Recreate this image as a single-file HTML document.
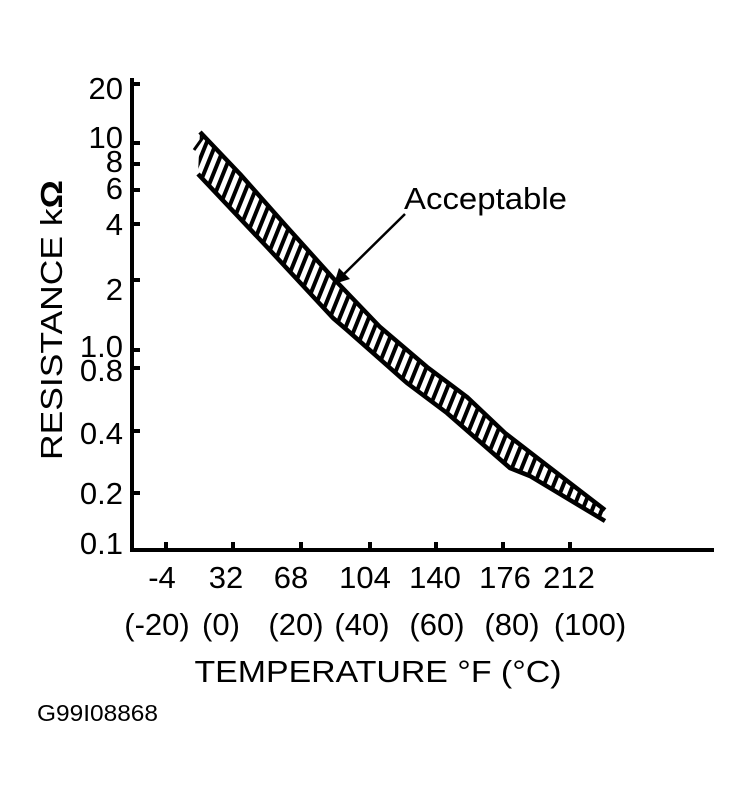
<!DOCTYPE html>
<html><head><meta charset="utf-8"><style>
html,body{margin:0;padding:0;background:#fff;}
svg{display:block;}
text{font-family:"Liberation Sans",Arial,sans-serif;fill:#000;}
</style></head><body>
<svg width="752" height="795" viewBox="0 0 752 795" xmlns="http://www.w3.org/2000/svg">
<defs>
<pattern id="h" patternUnits="userSpaceOnUse" width="9" height="40" patternTransform="rotate(22)">
<rect x="0" y="0" width="4" height="40" fill="#000"/>
</pattern>
</defs>
<!-- axes -->
<line x1="132" y1="78" x2="132" y2="552" stroke="#000" stroke-width="4"/>
<line x1="130" y1="550" x2="714" y2="550" stroke="#000" stroke-width="4"/>
<g stroke="#000" stroke-width="4">
<line x1="132" y1="84" x2="140" y2="84"/>
<line x1="132" y1="143" x2="140" y2="143"/>
<line x1="132" y1="164" x2="140" y2="164"/>
<line x1="132" y1="190" x2="140" y2="190"/>
<line x1="132" y1="224" x2="140" y2="224"/>
<line x1="132" y1="280" x2="140" y2="280"/>
<line x1="132" y1="350" x2="140" y2="350"/>
<line x1="132" y1="368" x2="140" y2="368"/>
<line x1="132" y1="431" x2="140" y2="431"/>
<line x1="132" y1="493" x2="140" y2="493"/>
<line x1="166" y1="550" x2="166" y2="542"/>
<line x1="233" y1="550" x2="233" y2="542"/>
<line x1="301" y1="550" x2="301" y2="542"/>
<line x1="370" y1="550" x2="370" y2="542"/>
<line x1="436" y1="550" x2="436" y2="542"/>
<line x1="503" y1="550" x2="503" y2="542"/>
<line x1="570" y1="550" x2="570" y2="542"/>
</g>
<!-- y labels -->
<g font-size="31" text-anchor="end">
<text x="123" y="99">20</text>
<text x="123" y="148">10</text>
<text x="123" y="172">8</text>
<text x="123" y="199">6</text>
<text x="123" y="235">4</text>
<text x="123" y="300">2</text>
<text x="123" y="357">1.0</text>
<text x="123" y="381">0.8</text>
<text x="123" y="444">0.4</text>
<text x="123" y="504">0.2</text>
<text x="123" y="554">0.1</text>
</g>
<text transform="translate(62,320) rotate(-90)" font-size="31" text-anchor="middle" textLength="280" lengthAdjust="spacingAndGlyphs">RESISTANCE k<tspan font-weight="bold">Ω</tspan></text>
<!-- x labels -->
<g font-size="31" text-anchor="middle">
<text x="162" y="588">-4</text>
<text x="226" y="588">32</text>
<text x="291" y="588">68</text>
<text x="365" y="588">104</text>
<text x="435" y="588">140</text>
<text x="505" y="588">176</text>
<text x="569" y="588">212</text>
<text x="157" y="635">(-20)</text>
<text x="221" y="635">(0)</text>
<text x="296" y="635">(20)</text>
<text x="362" y="635">(40)</text>
<text x="437" y="635">(60)</text>
<text x="512" y="635">(80)</text>
<text x="590" y="635">(100)</text>
</g>
<text x="378" y="682" font-size="31" text-anchor="middle" textLength="367" lengthAdjust="spacingAndGlyphs">TEMPERATURE °F (°C)</text>
<text x="37" y="721" font-size="23" textLength="121" lengthAdjust="spacingAndGlyphs">G99I08868</text>
<text x="404" y="209" font-size="31" textLength="163" lengthAdjust="spacingAndGlyphs">Acceptable</text>
<!-- band -->
<polygon fill="url(#h)" points="200,132 240,174 287,227 333,278 380,327 427,367 467,397 505,433 540,460 605,510 605,521 530,476 510,468 447,413 407,383 347,330 333,318 267,247 198,174"/>
<polyline fill="none" stroke="#000" stroke-width="4.5" stroke-linejoin="round" points="200,132 240,174 287,227 333,278 380,327 427,367 467,397 505,433 540,460 605,510"/>
<polyline fill="none" stroke="#000" stroke-width="4.5" stroke-linejoin="round" points="198,174 267,247 333,318 347,330 407,383 447,413 510,468 530,476 605,521"/>
<line x1="194" y1="150" x2="204" y2="136" stroke="#000" stroke-width="3"/>
<!-- arrow -->
<line x1="405" y1="214" x2="340" y2="278" stroke="#000" stroke-width="2.5"/>
<polygon points="334,284 339,268 350,279" fill="#000"/>
</svg>
</body></html>
